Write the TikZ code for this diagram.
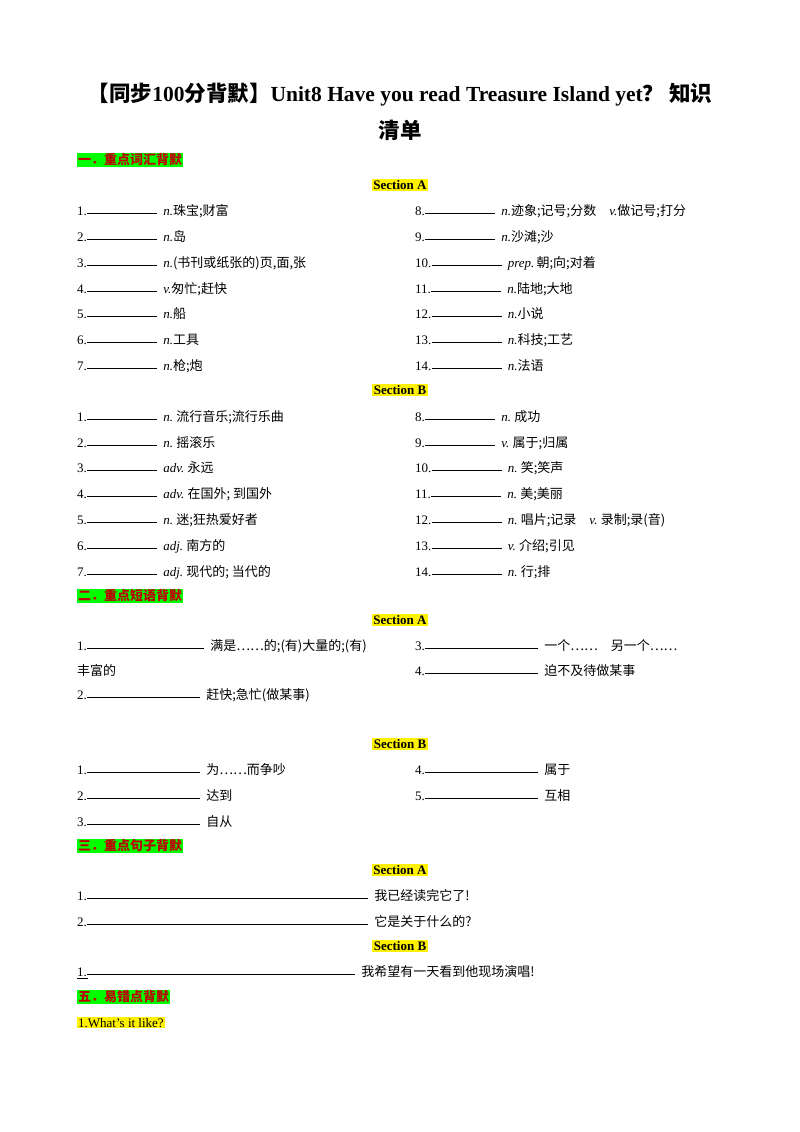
\documentclass[tikz,border=0pt]{standalone}
\usepackage{fontspec}
\setmainfont{Liberation Serif}
\newfontfamily\cjk{Noto Sans CJK SC}
\newcommand\C[1]{{\cjk #1}}
\newcommand\wrow[5]{% x, baseline y, label, blank length, rest
  \node[txt] (lab) at (#1,#2) {#3};
  \draw[blank] (lab.base east) ++(0,-2) -- ++(#4,0) coordinate (be);
  \node[txt] (rest) at ([xshift=6]be |- lab.base) {#5};}
\tikzset{
  txt/.style={anchor=base west,inner sep=0,font=\fontsize{13}{15}\selectfont},
  blank/.style={line width=0.7pt},
  head/.style={anchor=west,inner sep=1pt,fill=green,text=red!75!black,font=\fontsize{13}{15}\selectfont\bfseries\cjk},
  sect/.style={inner sep=1.5pt,fill=yellow,font=\fontsize{13}{15}\selectfont\bfseries},
}
\begin{document}
\begin{tikzpicture}[x=1pt,y=-1pt]
\useasboundingbox (0,0) rectangle (800,1132);
\node[font=\fontsize{21.5}{25}\selectfont\bfseries] (t1) at (400,95) {\C{【同步}100\C{分背默】}Unit8 Have you read Treasure Island yet\C{？\ 知识}};
\node[font=\fontsize{21.5}{25}\selectfont\bfseries\cjk] (t2) at (400,130) {清单};
\node[head] (h1) at (77,160) {一．重点词汇背默};
\node[sect] (s1) at (400,185) {Section A};
\wrow{77}{215}{1.}{70}{{\itshape n.}\C{珠宝;财富}}
\wrow{77}{241}{2.}{70}{{\itshape n.}\C{岛}}
\wrow{77}{267}{3.}{70}{{\itshape n.}\C{(书刊或纸张的)页,面,张}}
\wrow{77}{293}{4.}{70}{{\itshape v.}\C{匆忙;赶快}}
\wrow{77}{318}{5.}{70}{{\itshape n.}\C{船}}
\wrow{77}{344}{6.}{70}{{\itshape n.}\C{工具}}
\wrow{77}{370}{7.}{70}{{\itshape n.}\C{枪;炮}}
\wrow{415}{215}{8.}{70}{{\itshape n.}\C{迹象;记号;分数}\quad{\itshape v.}\C{做记号;打分}}
\wrow{415}{241}{9.}{70}{{\itshape n.}\C{沙滩;沙}}
\wrow{415}{267}{10.}{70}{{\itshape prep.}\,\C{朝;向;对着}}
\wrow{415}{293}{11.}{70}{{\itshape n.}\C{陆地;大地}}
\wrow{415}{318}{12.}{70}{{\itshape n.}\C{小说}}
\wrow{415}{344}{13.}{70}{{\itshape n.}\C{科技;工艺}}
\wrow{415}{370}{14.}{70}{{\itshape n.}\C{法语}}
\node[sect] (s2) at (400,390) {Section B};
\wrow{77}{421}{1.}{70}{{\itshape n.}\ \C{流行音乐;流行乐曲}}
\wrow{77}{447}{2.}{70}{{\itshape n.}\ \C{摇滚乐}}
\wrow{77}{472}{3.}{70}{{\itshape adv.}\ \C{永远}}
\wrow{77}{498}{4.}{70}{{\itshape adv.}\ \C{在国外; 到国外}}
\wrow{77}{524}{5.}{70}{{\itshape n.}\ \C{迷;狂热爱好者}}
\wrow{77}{550}{6.}{70}{{\itshape adj.}\ \C{南方的}}
\wrow{77}{576}{7.}{70}{{\itshape adj.}\ \C{现代的; 当代的}}
\wrow{415}{421}{8.}{70}{{\itshape n.}\ \C{成功}}
\wrow{415}{447}{9.}{70}{{\itshape v.}\ \C{属于;归属}}
\wrow{415}{472}{10.}{70}{{\itshape n.}\ \C{笑;笑声}}
\wrow{415}{498}{11.}{70}{{\itshape n.}\ \C{美;美丽}}
\wrow{415}{524}{12.}{70}{{\itshape n.}\ \C{唱片;记录}\quad{\itshape v.}\ \C{录制;录(音)}}
\wrow{415}{550}{13.}{70}{{\itshape v.}\ \C{介绍;引见}}
\wrow{415}{576}{14.}{70}{{\itshape n.}\ \C{行;排}}
\node[head] (h2) at (77,596) {二．重点短语背默};
\node[sect] (s3) at (400,620) {Section A};
\wrow{77}{650}{1.}{117}{\C{满是……的;(有)大量的;(有)}}
\node[txt] (f1) at (77,675) {\C{丰富的}};
\wrow{77}{699}{2.}{113}{\C{赶快;急忙(做某事)}}
\wrow{415}{650}{3.}{113}{\C{一个……\quad 另一个……}}
\wrow{415}{675}{4.}{113}{\C{迫不及待做某事}}
\node[sect] (s4) at (400,744) {Section B};
\wrow{77}{774}{1.}{113}{\C{为……而争吵}}
\wrow{77}{800}{2.}{113}{\C{达到}}
\wrow{77}{826}{3.}{113}{\C{自从}}
\wrow{415}{774}{4.}{113}{\C{属于}}
\wrow{415}{800}{5.}{113}{\C{互相}}
\node[head] (h3) at (77,846) {三．重点句子背默};
\node[sect] (s5) at (400,870) {Section A};
\wrow{77}{900}{1.}{281}{\C{我已经读完它了!}}
\wrow{77}{926}{2.}{281}{\C{它是关于什么的?}}
\node[sect] (s6) at (400,946) {Section B};
\wrow{77}{976}{1.}{268}{\C{我希望有一天看到他现场演唱!}}
\draw[blank] (77,978) -- (88,978);
\node[head] (h5) at (77,997) {五．易错点背默};
\node[txt,fill=yellow,inner sep=1pt] (e1) at (77,1027) {1.What's it like?};
\end{tikzpicture}
\end{document}
